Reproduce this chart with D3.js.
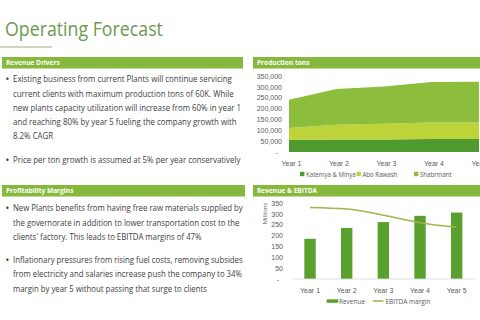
<!DOCTYPE html>
<html>
<head>
<meta charset="utf-8">
<script src="https://cdn.jsdelivr.net/npm/d3@7"></script>
<style>
  html, body { margin: 0; padding: 0; background: #fff; }
  svg { display: block; font-family: "Open Sans", "DejaVu Sans", sans-serif; }
</style>
</head>
<body>
<svg id="chart"></svg>
<script>
const W = 480, H = 320

// ---- data ----
const years = ["Year 1", "Year 2", "Year 3", "Year 4", "Year 5"]
const prodKeys = ["Katemya & Minya", "Abo Rawash", "Shabrmant"]
const katemya = [55000, 57000, 58000, 60000, 60000]
const aboRawash = [55000, 68000, 72000, 76000, 76000]
const shabrmant = [131000, 165000, 172000, 186000, 187000]
const prodTicks = [0, 50000, 100000, 150000, 200000, 250000, 300000, 350000]

const revenue = [185, 235, 262, 291, 306]          // millions
const ebitdaMargin = [0.47, 0.46, 0.42, 0.37, 0.34]
const revTicks = [0, 50, 100, 150, 200, 250, 300, 350]

const driversText = [
  ["Existing business from current Plants will continue servicing",
   "current clients with maximum production tons of 60K. While",
   "new plants capacity utilization will increase from 60% in year 1",
   "and reaching 80% by year 5 fueling the company growth with",
   "8.2% CAGR"],
  ["Price per ton growth is assumed at 5% per year conservatively"]
]
const marginsText = [
  ["New Plants benefits from having free raw materials supplied by",
   "the governorate in addition to  lower transportation cost to the",
   "clients' factory. This leads to  EBITDA margins of 47%"],
  ["Inflationary pressures from rising fuel costs, removing subsides",
   "from electricity and salaries increase push the company to 34%",
   "margin by year 5 without passing that surge to clients"]
]

const green = "#86b83b", textCol = "#404040", axisCol = "#595959"
const prodColors = ["#4f9a2e", "#bcd43a", "#8cbd3c"]

const svg = d3.select("#chart").attr("width", W).attr("height", H)

// squeeze a text group horizontally so its widest line fits
function fit(g, width) {
  let max = 0
  g.selectAll("text").each(function(){ max = Math.max(max, this.getComputedTextLength()) })
  return max > 0 ? width / max : 1
}

// ---- title ----
const title = svg.append("g").attr("transform", "translate(5,36)")
title.append("text").text("Operating Forecast")
  .attr("font-size", 20).attr("fill", "#6b9a4f")
title.attr("transform", `translate(5,36) scale(${fit(title, 158)},1)`)
svg.append("line").attr("x1", 0).attr("x2", 52).attr("y1", 47).attr("y2", 47)
  .attr("stroke", "#c3c9ad").attr("stroke-width", 1.5)

// ---- section headers ----
function header(x, y, w, label) {
  svg.append("rect").attr("x", x).attr("y", y).attr("width", w).attr("height", 11.5).attr("fill", green)
  svg.append("text").text(label)
    .attr("transform", `translate(${x + 4},${y + 8.4}) scale(0.9,1)`)
    .attr("font-size", 7.3).attr("font-weight", "bold").attr("fill", "#fff")
}
header(2, 57, 241, "Revenue Drivers")
header(253, 57, 227, "Production tons")
header(2, 185, 243, "Profitability Margins")
header(253, 185, 227, "Revenue & EBITDA")

// ---- bullet text blocks ----
function bullets(paras, y0, lineH, gap, width) {
  const g = svg.append("g")
  let y = y0
  paras.forEach(lines => {
    svg.append("text").text("•").attr("x", 5.5).attr("y", y + 0.5)
      .attr("font-size", 10).attr("fill", "#333")
    lines.forEach(l => {
      g.append("text").text(l).attr("x", 0).attr("y", y)
        .attr("font-size", 9.2).attr("fill", textCol)
      y += lineH
    })
    y += gap
  })
  g.attr("transform", `translate(13,0) scale(${fit(g, width)},1)`)
}
bullets(driversText, 82.5, 14.2, 10, 228)
bullets(marginsText, 211.5, 14.3, 8.6, 230)

// ---- production tons (stacked area) ----
const px = d3.scalePoint().domain(years).range([289, 479])
const py = d3.scaleLinear().domain([0, 350000]).range([152, 76])
const prodRows = years.map((y, i) => ({
  year: y, "Katemya & Minya": katemya[i], "Abo Rawash": aboRawash[i], "Shabrmant": shabrmant[i]
}))
const stacked = d3.stack().keys(prodKeys)(prodRows)
const area = d3.area().x(d => px(d.data.year)).y0(d => py(d[0])).y1(d => py(d[1]))
svg.append("g").selectAll("path").data(stacked).join("path")
  .attr("d", area).attr("fill", (d, i) => prodColors[i])

const fmtTick = f => d => d === 0 ? "-" : f(d)
const pAxis = svg.append("g").attr("transform", "translate(288,0)")
  .call(d3.axisLeft(py).tickValues(prodTicks).tickSize(0).tickPadding(6).tickFormat(fmtTick(d3.format(","))))
pAxis.select(".domain").remove()
pAxis.selectAll("text").attr("font-size", 7).attr("fill", axisCol).attr("font-family", null)
pAxis.selectAll(".tick").filter(d => d === 0).select("text").attr("dx", -4)

const pxAxis = svg.append("g").attr("transform", "translate(2,152)")
  .call(d3.axisBottom(px).tickSize(0).tickPadding(9))
pxAxis.select(".domain").remove()
pxAxis.selectAll("text").attr("font-size", 7).attr("fill", axisCol).attr("font-family", null)

const pLeg = svg.append("g").selectAll("g").data(prodKeys).join("g")
  .attr("transform", (d, i) => `translate(${[300, 356.5, 414][i]},174)`)
pLeg.append("rect").attr("y", -2.2).attr("width", 4.4).attr("height", 4.4).attr("fill", (d, i) => prodColors[i])
pLeg.append("text").text(d => d).attr("transform", "translate(6,2.6) scale(0.85,1)")
  .attr("font-size", 7.2).attr("fill", axisCol)

// ---- revenue & EBITDA ----
const rx = d3.scaleBand().domain(years).range([291.7, 475]).paddingInner(0.69).paddingOuter(0.345)
const ry = d3.scaleLinear().domain([0, 350]).range([279, 203])
const ry2 = d3.scaleLinear().domain([0, 0.5]).range([279, 203])

svg.append("g").selectAll("rect").data(revenue).join("rect")
  .attr("x", (d, i) => rx(years[i])).attr("width", rx.bandwidth())
  .attr("y", d => ry(d)).attr("height", d => ry(0) - ry(d))
  .attr("fill", "#5aa02f")

svg.append("line").attr("x1", 291.7).attr("x2", 475).attr("y1", ry(0)).attr("y2", ry(0))
  .attr("stroke", "#d9d9d9").attr("stroke-width", 0.8)

const line = d3.line().x((d, i) => rx(years[i]) + rx.bandwidth() / 2).y(d => ry2(d)).curve(d3.curveMonotoneX)
svg.append("path").datum(ebitdaMargin).attr("d", line)
  .attr("fill", "none").attr("stroke", "#a6b24a").attr("stroke-width", 1.5)

const rAxis = svg.append("g").attr("transform", "translate(290,0)")
  .call(d3.axisLeft(ry).tickValues(revTicks).tickSize(0).tickPadding(7).tickFormat(fmtTick(d3.format("d"))))
rAxis.select(".domain").remove()
rAxis.selectAll("text").attr("font-size", 7).attr("fill", axisCol).attr("font-family", null)
rAxis.selectAll(".tick").filter(d => d === 0).select("text").attr("dx", -4)

svg.append("text").text("Millions")
  .attr("transform", "translate(267,213.5) rotate(-90)")
  .attr("text-anchor", "middle").attr("font-size", 6).attr("fill", axisCol)

const rxAxis = svg.append("g").attr("transform", "translate(0,279)")
  .call(d3.axisBottom(rx).tickSize(0).tickPadding(9))
rxAxis.select(".domain").remove()
rxAxis.selectAll("text").attr("font-size", 7).attr("fill", axisCol).attr("font-family", null)

const rLeg = svg.append("g")
rLeg.append("rect").attr("x", 326.7).attr("y", 299.3).attr("width", 11.5).attr("height", 3.5).attr("fill", "#5aa02f")
rLeg.append("text").text("Revenue").attr("transform", "translate(339,303.6) scale(0.9,1)").attr("font-size", 7.2).attr("fill", axisCol)
rLeg.append("line").attr("x1", 372.7).attr("x2", 383.5).attr("y1", 301).attr("y2", 301)
  .attr("stroke", "#a6b24a").attr("stroke-width", 1.5)
rLeg.append("text").text("EBITDA margin").attr("transform", "translate(385.5,303.6) scale(0.9,1)").attr("font-size", 7.2).attr("fill", axisCol)
</script>
</body>
</html>
